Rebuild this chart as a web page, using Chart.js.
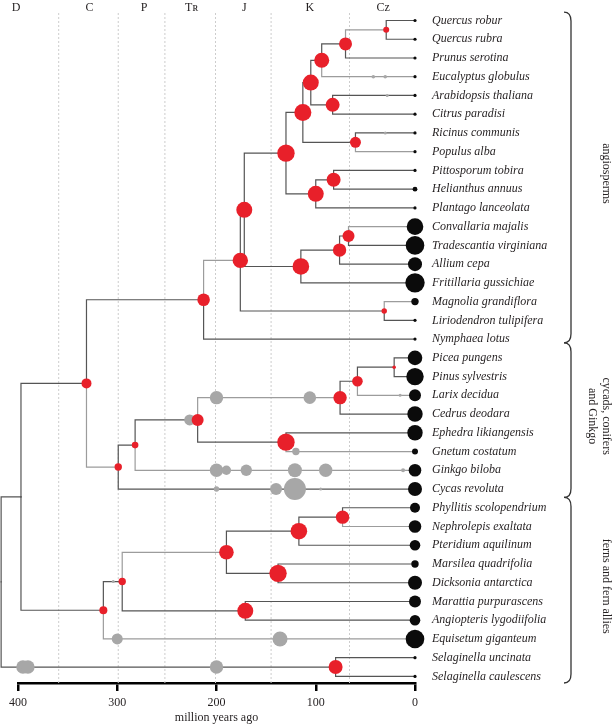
<!DOCTYPE html>
<html lang="en">
<head>
<meta charset="UTF-8">
<title>Land plant phylogeny</title>
<script src="https://cdn.jsdelivr.net/npm/chart.js@4.4.0/dist/chart.umd.min.js"></script>
<style>
  html, body { margin: 0; padding: 0; background: #fff; }
</style>
</head>
<body>
<canvas id="tree" width="616" height="724"></canvas>
<script>
// tips, top to bottom
const species = [
  'Quercus robur', 'Quercus rubra', 'Prunus serotina', 'Eucalyptus globulus',
  'Arabidopsis thaliana', 'Citrus paradisi', 'Ricinus communis', 'Populus alba',
  'Pittosporum tobira', 'Helianthus annuus', 'Plantago lanceolata', 'Convallaria majalis',
  'Tradescantia virginiana', 'Allium cepa', 'Fritillaria gussichiae', 'Magnolia grandiflora',
  'Liriodendron tulipifera', 'Nymphaea lotus', 'Picea pungens', 'Pinus sylvestris',
  'Larix decidua', 'Cedrus deodara', 'Ephedra likiangensis', 'Gnetum costatum',
  'Ginkgo biloba', 'Cycas revoluta', 'Phyllitis scolopendrium', 'Nephrolepis exaltata',
  'Pteridium aquilinum', 'Marsilea quadrifolia', 'Dicksonia antarctica', 'Marattia purpurascens',
  'Angiopteris lygodiifolia', 'Equisetum giganteum', 'Selaginella uncinata', 'Selaginella caulescens'
];
// black circle size at each tip
const tipBubble = [
  1.6, 1.6, 1.6, 1.6, 1.6, 1.6, 1.6, 1.6, 1.6, 2.4, 1.6, 8.3,
  9.3, 7, 9.7, 3.7, 1.6, 1.6, 7.3, 8.7, 6, 7.7, 7.7, 3,
  6.3, 7, 5, 6.3, 5.3, 3.7, 7, 6, 5.3, 9.3, 1.6, 1.6
];

// internal nodes: age in Ma and the two children
const cladeNames = ['qq', 'qqp', 'fab', 'cit', 'ros1', 'ric', 'ros', 'pit', 'ast', 'eud',
  'com', 'com2', 'mono', 'mes1', 'mag', 'mes', 'ang',
  'pin', 'pin2', 'conif', 'gnet', 'cg', 'cgg', 'gym', 'seed',
  'asp', 'asp2', 'mars', 'lep', 'mar', 'fern', 'mon', 'euph', 'sel', 'root'];
const cladeAges = [29, 70, 94, 83, 105, 60, 113, 82, 100, 130,
  67, 76, 115, 172, 31, 176, 213,
  21, 58, 75.5, 130, 219, 282, 299, 331,
  73, 117, 138, 190, 171, 295, 314, 397, 80, 417];
const cladeKids = [
  ['Quercus robur', 'Quercus rubra'], ['qq', 'Prunus serotina'], ['qqp', 'Eucalyptus globulus'],
  ['Arabidopsis thaliana', 'Citrus paradisi'], ['fab', 'cit'], ['Ricinus communis', 'Populus alba'],
  ['ros1', 'ric'], ['Pittosporum tobira', 'Helianthus annuus'], ['pit', 'Plantago lanceolata'],
  ['ros', 'ast'],
  ['Convallaria majalis', 'Tradescantia virginiana'], ['com', 'Allium cepa'], ['com2', 'Fritillaria gussichiae'],
  ['eud', 'mono'], ['Magnolia grandiflora', 'Liriodendron tulipifera'], ['mes1', 'mag'], ['mes', 'Nymphaea lotus'],
  ['Picea pungens', 'Pinus sylvestris'], ['pin', 'Larix decidua'], ['pin2', 'Cedrus deodara'],
  ['Ephedra likiangensis', 'Gnetum costatum'], ['conif', 'gnet'], ['cg', 'Ginkgo biloba'],
  ['cgg', 'Cycas revoluta'], ['ang', 'gym'],
  ['Phyllitis scolopendrium', 'Nephrolepis exaltata'], ['asp', 'Pteridium aquilinum'],
  ['Marsilea quadrifolia', 'Dicksonia antarctica'], ['asp2', 'mars'],
  ['Marattia purpurascens', 'Angiopteris lygodiifolia'], ['lep', 'mar'], ['fern', 'Equisetum giganteum'],
  ['seed', 'mon'], ['Selaginella uncinata', 'Selaginella caulescens'], ['euph', 'sel']
];
const cladeBubble = [3, 6.5, 7.5, 7, 8, 5.5, 8.5, 7, 8, 8.7,
  6, 6.7, 8.3, 8, 2.7, 7.7, 6.3,
  1.8, 5.3, 6.7, 8.7, 6, 3.3, 3.7, 5,
  6.7, 8.3, 8.7, 7.3, 8, 3.7, 4, 0, 7, 0];

// grey circles along branches (branch named by its younger end)
const fossilBranch = ['Eucalyptus globulus', 'Eucalyptus globulus', 'Arabidopsis thaliana', 'Ricinus communis',
  'conif', 'conif', 'cg', 'Gnetum costatum', 'Larix decidua',
  'Ginkgo biloba', 'Ginkgo biloba', 'Ginkgo biloba', 'Ginkgo biloba', 'Ginkgo biloba', 'Ginkgo biloba',
  'Cycas revoluta', 'Cycas revoluta', 'Cycas revoluta', 'Cycas revoluta',
  'Equisetum giganteum', 'Equisetum giganteum', 'sel', 'sel', 'sel', 'fern'];
const fossilAges = [42, 30, 28, 30,
  200, 106, 227, 120, 15,
  200, 190, 170, 121, 90, 12,
  200, 140, 121, 95,
  300, 136, 395, 390, 200, 304];
const fossilBubble = [1.8, 1.8, 1.5, 1.5,
  6.7, 6.3, 5.5, 3.7, 1.5,
  6.7, 4.7, 5.7, 7, 6.7, 2,
  2.7, 6, 11, 1.5,
  5.5, 7.5, 6.7, 6.7, 6.7, 1.5];

const lightBranches = ['qq', 'Eucalyptus globulus', 'Populus alba', 'Convallaria majalis',
  'Magnolia grandiflora', 'mes', 'Larix decidua', 'conif', 'Gnetum costatum', 'Ginkgo biloba',
  'gym', 'Nephrolepis exaltata', 'lep', 'Equisetum giganteum'];

const xTicks = [400, 300, 200, 100, 0];
const periodNames = ['D', 'C', 'P', 'T\u0280', 'J', 'K', 'Cz'];
const periodMids = [402, 328, 273, 225, 172, 106, 32];
const periodBounds = [359, 299, 252, 201, 145, 66];

const groupNames = [['angiosperms'], ['cycads, conifers', 'and Ginkgo'], ['ferns and fern allies']];
const groupRows = [[-0.45, 17.2], [17.2, 25.45], [25.45, 35.35]];

const RED = '#e8202a', GREY = '#a7a7a7', BLACK = '#0b0b0b';
const DARK = '#555555', LIGHT = '#9c9c9c', INK = '#231f20';
const SERIF = '"Liberation Serif", "DejaVu Serif", serif';

// layout of the tree: tip rows are indices, node rows are the mean of their children
const rowOf = {}, ageOf = {};
species.forEach((s, i) => { rowOf[s] = i; ageOf[s] = 0; });
cladeNames.forEach((c, i) => { ageOf[c] = cladeAges[i]; });
function rowFor(name) {
  if (name in rowOf) return rowOf[name];
  const [a, b] = cladeKids[cladeNames.indexOf(name)];
  rowOf[name] = (rowFor(a) + rowFor(b)) / 2;
  return rowOf[name];
}
cladeNames.forEach(rowFor);

const Y_MIN = -0.4, Y_MAX = 35.35;

const datasets = [];
datasets.push({
  data: species.map((s, i) => ({ x: 0, y: i })),
  pointRadius: tipBubble, backgroundColor: BLACK, borderWidth: 0, clip: false
});
datasets.push({
  data: cladeNames.map(c => ({ x: ageOf[c], y: rowOf[c] })),
  pointRadius: cladeBubble, backgroundColor: RED, borderWidth: 0, clip: false
});
datasets.push({
  data: fossilBranch.map((b, i) => ({ x: fossilAges[i], y: rowOf[b] })),
  pointRadius: fossilBubble, backgroundColor: GREY, borderWidth: 0, clip: false
});
cladeNames.forEach((c, i) => {
  cladeKids[i].forEach(k => {
    datasets.push({
      data: [{ x: ageOf[c], y: rowOf[c] }, { x: ageOf[c], y: rowOf[k] }, { x: ageOf[k], y: rowOf[k] }],
      showLine: true, pointRadius: 0, borderWidth: 1.2,
      borderColor: lightBranches.includes(k) ? LIGHT : DARK,
      borderCapStyle: 'square', clip: false
    });
  });
});
periodBounds.forEach(b => {
  datasets.push({
    data: [{ x: b, y: Y_MIN }, { x: b, y: Y_MAX }],
    showLine: true, pointRadius: 0, borderWidth: 1,
    borderColor: '#cdcdcd', borderDash: [2, 2]
  });
});

// brackets and group names on the right
const groupPlugin = {
  id: 'groups',
  afterDraw(chart) {
    const { ctx } = chart;
    const y = chart.scales.y;
    ctx.save();
    ctx.strokeStyle = '#333';
    ctx.lineWidth = 1.3;
    groupRows.forEach(([a, b], i) => {
      const top = y.getPixelForValue(a), bot = y.getPixelForValue(b);
      const x0 = 564, x1 = 571, r = 9;
      ctx.beginPath();
      ctx.moveTo(x0, top);
      ctx.quadraticCurveTo(x1, top, x1, top + r);
      ctx.lineTo(x1, bot - r);
      ctx.quadraticCurveTo(x1, bot, x0, bot);
      ctx.stroke();

      ctx.save();
      ctx.translate(606, (top + bot) / 2 - 4);
      ctx.rotate(Math.PI / 2);
      ctx.font = '12px ' + SERIF;
      ctx.fillStyle = INK;
      ctx.textAlign = 'center';
      ctx.textBaseline = 'middle';
      groupNames[i].forEach((line, j) => ctx.fillText(line, 0, j * 13.4));
      ctx.restore();
    });
    ctx.restore();
  }
};

// fixed axis sizes; drop the edge padding Chart.js reserves for labels
const noEdgePad = s => { s.paddingTop = 0; s.paddingBottom = 0; s.paddingLeft = 0; s.paddingRight = 0; };

new Chart(document.getElementById('tree'), {
  type: 'scatter',
  data: { datasets },
  plugins: [groupPlugin],
  options: {
    responsive: false,
    animation: false,
    events: [],
    layout: { padding: { left: 18, right: 0, top: 0, bottom: 0 } },
    plugins: { legend: { display: false }, tooltip: { enabled: false } },
    scales: {
      x: {
        type: 'linear', position: 'bottom', min: 0, max: 400, reverse: true,
        afterBuildTicks: s => { s.ticks = xTicks.map(v => ({ value: v })); },
        ticks: { font: { family: SERIF, size: 12 }, color: INK, padding: 5, maxRotation: 0, autoSkip: false },
        grid: { display: true, drawOnChartArea: false, drawTicks: true, tickLength: 8, color: '#000', lineWidth: 2.5 },
        border: { display: true, color: '#000', width: 2.5 },
        title: { display: true, text: 'million years ago', font: { family: SERIF, size: 12 }, color: INK, padding: { top: 0, bottom: -1 } },
        afterFit: s => { s.height = 41; noEdgePad(s); }
      },
      top: {
        type: 'linear', position: 'top', display: true, min: 0, max: 400, reverse: true,
        afterBuildTicks: s => { s.ticks = periodMids.map(v => ({ value: v })); },
        ticks: { callback: (v, i) => periodNames[i], autoSkip: false, maxRotation: 0, padding: -2,
                 font: { family: SERIF, size: 12 }, color: INK },
        grid: { display: false, drawTicks: false },
        border: { display: false },
        afterFit: s => { s.height = 13; noEdgePad(s); }
      },
      y: {
        type: 'linear', position: 'right', min: Y_MIN, max: Y_MAX, reverse: true,
        afterBuildTicks: s => { s.ticks = species.map((_, i) => ({ value: i })); },
        ticks: { callback: (v, i) => species[i], autoSkip: false, padding: 17,
                 font: { family: SERIF, size: 12, style: 'italic' }, color: INK },
        grid: { display: false, drawTicks: false },
        border: { display: false },
        afterFit: s => { s.width = 201; noEdgePad(s); }
      }
    }
  }
});
</script>
</body>
</html>
